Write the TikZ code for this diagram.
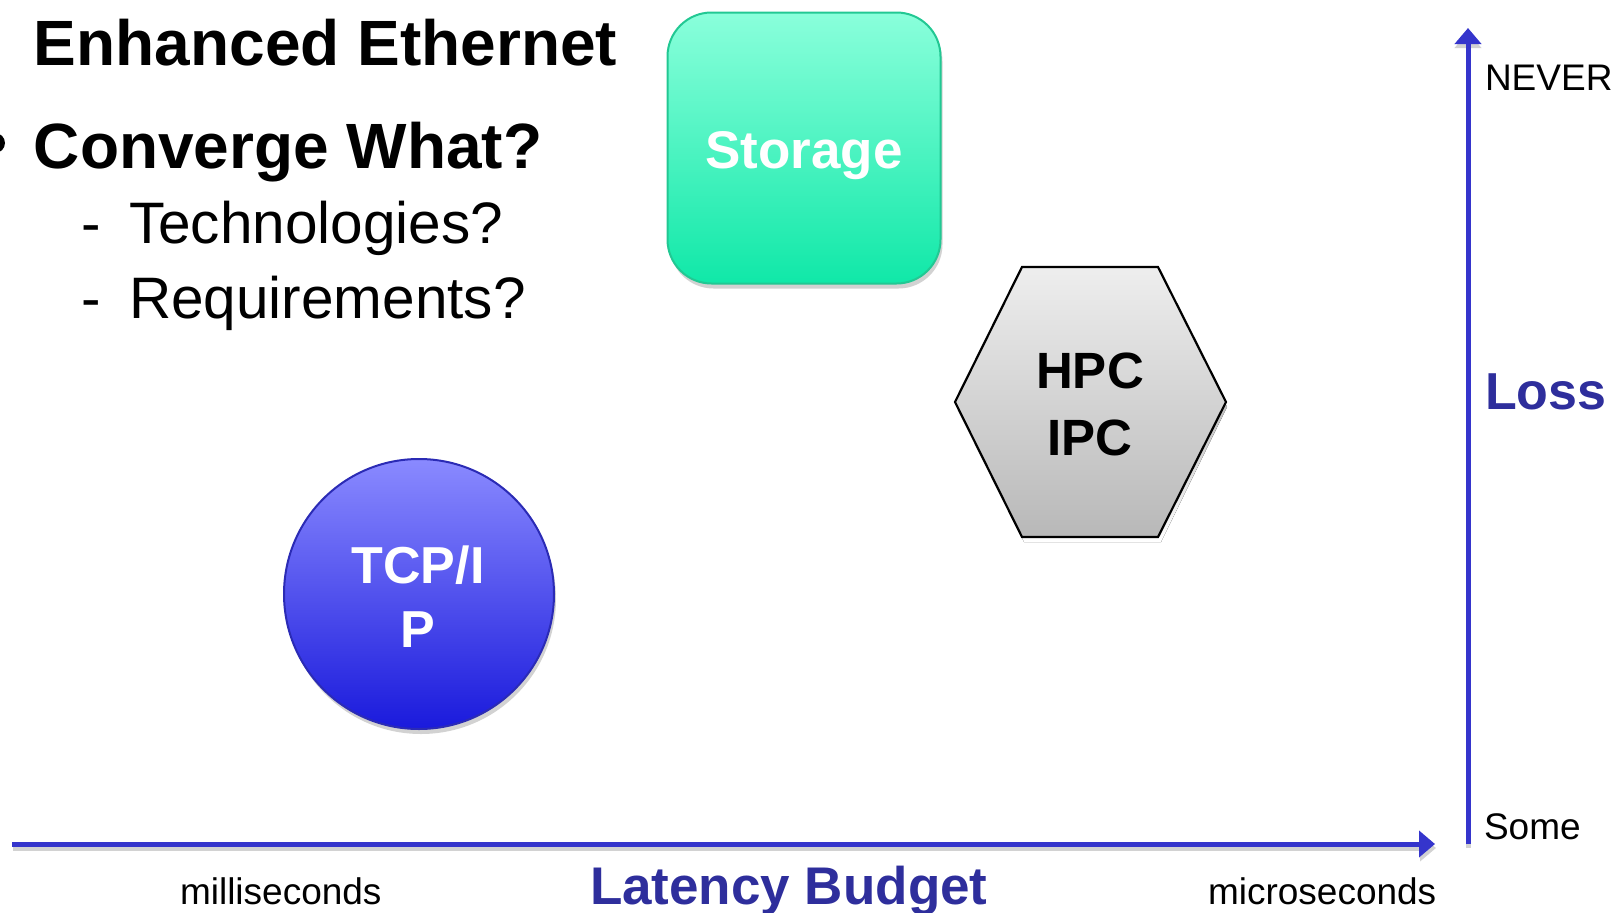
\documentclass[tikz,border=0pt]{standalone}
\usepackage{fontspec}
\setmainfont{Liberation Sans}
\usetikzlibrary{arrows.meta,shadows}

\definecolor{axisblue}{HTML}{3535CC}
\definecolor{labelblue}{HTML}{2E2E9C}
\definecolor{mintTop}{HTML}{8AFFDB}
\definecolor{mintBot}{HTML}{10E8A8}
\definecolor{mintEdge}{HTML}{22C893}
\definecolor{blueTop}{HTML}{8A8AFF}
\definecolor{blueBot}{HTML}{1A1ADC}
\definecolor{blueEdge}{HTML}{2B2BB5}
\definecolor{greyTop}{HTML}{EEEEEE}
\definecolor{greyBot}{HTML}{B8B8B8}
\definecolor{shade}{HTML}{D2D2D2}

\begin{document}
\begin{tikzpicture}[x=1pt, y=-1pt,
  txt/.style={inner sep=0pt, outer sep=0pt},
  heading/.style={txt, anchor=base west, font=\fontsize{64}{70}\selectfont\bfseries},
  subitem/.style={txt, anchor=base west, font=\fontsize{58.5}{64}\selectfont},
  ticklabel/.style={txt, anchor=base west, font=\fontsize{37}{42}\selectfont},
  axislabel/.style={txt, anchor=base west, font=\fontsize{52}{58}\selectfont\bfseries, text=labelblue},
  shapelabel/.style={txt, anchor=base, font=\fontsize{52}{58}\selectfont\bfseries},
  axisline/.style={draw=axisblue, line width=5pt, -{Triangle[length=16pt,width=26pt]}},
  axisshadow/.style={draw=shade, line width=5pt, -{Triangle[length=16pt,width=26pt]}},
  softshadow/.style={drop shadow={shadow xshift=2pt, shadow yshift=-5pt, fill=shade, opacity=1}},
]
\useasboundingbox (0,0) rectangle (1615,913);

% ---- bullet text, top left ----
\fill (-5,143) circle (10);
\node[heading] (t1) at (34,65) {Enhanced Ethernet};
\node[heading] (t2) at (34,168) {Converge What?};
\node[subitem] (d1) at (81,243) {-};
\node[subitem] (s1) at (129,243) {Technologies?};
\node[subitem] (d2) at (81,318) {-};
\node[subitem] (s2) at (129,318) {Requirements?};

% ---- Storage box ----
\node[rectangle, rounded corners=44pt, minimum width=273pt, minimum height=271pt,
      top color=mintTop, bottom color=mintBot, draw=mintEdge, line width=2pt,
      softshadow] (storage) at (804,148) {};
\node[shapelabel, font=\fontsize{53}{58}\selectfont\bfseries, text=white] (storagetext) at (804,168) {Storage};

% ---- HPC / IPC hexagon ----
\fill[shade] (958,407) -- (1024,272) -- (1161,272) -- (1227,407) -- (1161,542) -- (1024,542) -- cycle;
\draw[top color=greyTop, bottom color=greyBot, draw=black, line width=2.2pt, line join=miter]
  (955,402) -- (1022,267) -- (1158,267) -- (1226,402) -- (1158,537) -- (1022,537) -- cycle;
\node[shapelabel, font=\fontsize{51}{56}\selectfont\bfseries] (hpc) at (1090,388) {HPC};
\node[shapelabel, font=\fontsize{51}{56}\selectfont\bfseries] (ipc) at (1090,455) {IPC};

% ---- TCP/IP circle ----
\node[circle, minimum size=270pt, top color=blueTop, bottom color=blueBot,
      draw=blueEdge, line width=2pt, softshadow] (tcp) at (419,594) {};
\node[shapelabel, text=white] (tcp1) at (418,583) {TCP/I};
\node[shapelabel, text=white] (tcp2) at (418,647) {P};

% ---- axes ----
\coordinate (xstart) at (12,844);
\coordinate (xend) at (1435,844);
\coordinate (ystart) at (1468,844);
\coordinate (yend) at (1468,28);
\draw[axisshadow] ([shift={(1,4)}]xstart) -- ([shift={(1,4)}]xend);
\draw[axisshadow] ([shift={(0,4)}]ystart) -- ([shift={(0,4)}]yend);
\draw[axisline] (xstart) -- (xend);
\draw[axisline] (ystart) -- (yend);

% ---- axis labels ----
\node[ticklabel] (never) at (1485,90) {NEVER};
\node[axislabel] (loss) at (1485,409) {Loss};
\node[ticklabel] (some) at (1484,839) {Some};
\node[ticklabel] (ms) at (180,904) {milliseconds};
\node[axislabel, font=\fontsize{53}{58}\selectfont\bfseries] (latency) at (590,904) {Latency Budget};
\node[ticklabel] (us) at (1208,904) {microseconds};
\end{tikzpicture}
\end{document}
